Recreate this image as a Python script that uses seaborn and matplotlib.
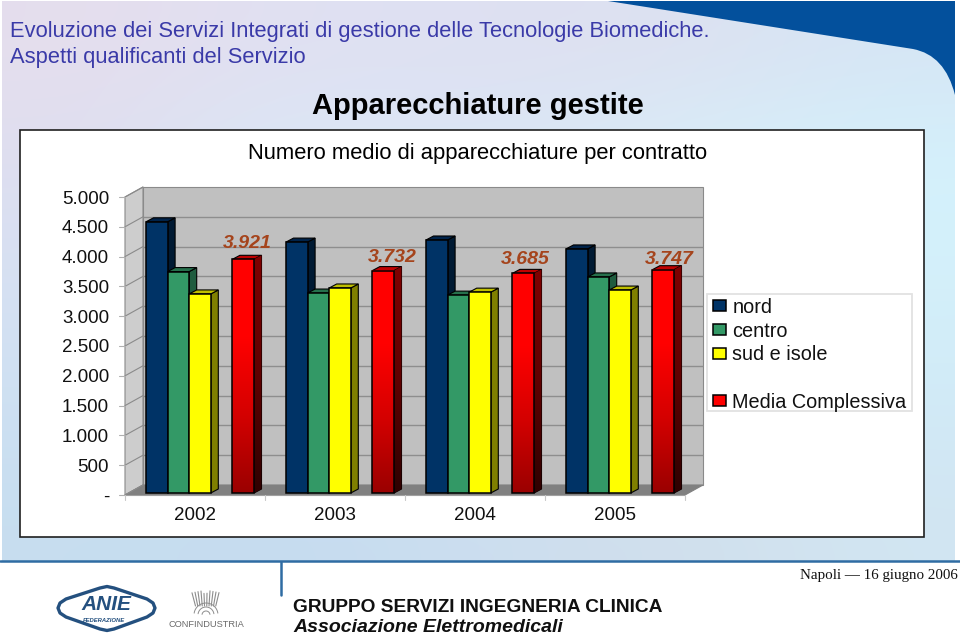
import matplotlib
matplotlib.use("Agg")
import matplotlib.pyplot as plt
from matplotlib.colors import LinearSegmentedColormap
from matplotlib.patches import Polygon, Rectangle, PathPatch
from matplotlib.path import Path
from matplotlib.transforms import Affine2D
import seaborn as sns
import pandas as pd
import numpy as np

# Chart data
anni = ["2002", "2003", "2004", "2005"]
nord = [4550, 4210, 4245, 4095]
centro = [3715, 3355, 3320, 3625]
sud_isole = [3340, 3440, 3370, 3405]
media = [3921, 3732, 3685, 3747]
media_labels = ["3.921", "3.732", "3.685", "3.747"]
y_ticks = [0, 500, 1000, 1500, 2000, 2500, 3000, 3500, 4000, 4500, 5000]
y_tick_labels = ["-", "500", "1.000", "1.500", "2.000", "2.500", "3.000", "3.500", "4.000", "4.500", "5.000"]
serie_nomi = ["nord", "centro", "sud e isole", " ", "Media Complessiva"]

# The empty series keeps the hole between the bars and in the legend
serie_valori = [nord, centro, sud_isole, [np.nan] * 4, media]
rows = []
for nome, valori in zip(serie_nomi, serie_valori):
    for anno, v in zip(anni, valori):
        rows.append({"anno": anno, "serie": nome, "valore": v})
df = pd.DataFrame(rows)

colori = {"nord": "#003366", "centro": "#339966", "sud e isole": "#ffff00", " ": "#ffffff", "Media Complessiva": "#ff0000"}
top_col = {"nord": "#00234a", "centro": "#26704c", "sud e isole": "#bfbf00", "Media Complessiva": "#c00000"}
side_col = {"nord": "#001a33", "centro": "#1f5c3f", "sud e isole": "#808000", "Media Complessiva": "#800000"}

W, H = 960, 636
sns.set_theme(style="white")
plt.rcParams["font.family"] = ["Liberation Sans", "DejaVu Sans"]
fig = plt.figure(figsize=(W / 100, H / 100), dpi=100, facecolor="white")

# Slide layer, in pixels
bg = fig.add_axes([0, 0, 1, 1], zorder=0)
bg.set_xlim(0, W)
bg.set_ylim(H, 0)
bg.axis("off")

sfondo = np.array([
    [[0.90, 0.87, 0.93], [0.88, 0.88, 0.95], [0.87, 0.88, 0.95], [0.87, 0.88, 0.94], [0.84, 0.90, 0.96]],
    [[0.87, 0.87, 0.94], [0.85, 0.92, 0.97], [0.86, 0.90, 0.96], [0.85, 0.94, 0.98], [0.83, 0.95, 0.99]],
    [[0.84, 0.88, 0.95], [0.84, 0.92, 0.97], [0.84, 0.93, 0.98], [0.83, 0.94, 0.98], [0.83, 0.94, 0.98]],
    [[0.81, 0.88, 0.95], [0.82, 0.90, 0.96], [0.83, 0.91, 0.97], [0.83, 0.93, 0.97], [0.82, 0.92, 0.97]],
    [[0.78, 0.87, 0.94], [0.77, 0.86, 0.94], [0.80, 0.87, 0.94], [0.82, 0.87, 0.92], [0.82, 0.90, 0.95]],
])
bg.imshow(sfondo, extent=[2, 955, 561, 1], aspect="auto", interpolation="bicubic", zorder=0)
bg.set_xlim(0, W)
bg.set_ylim(H, 0)

# Dark blue corner
verts = [(608, 1), (955, 1), (955, 95), (945, 55), (913, 49), (608, 1)]
codes = [Path.MOVETO, Path.LINETO, Path.LINETO, Path.CURVE3, Path.CURVE3, Path.CLOSEPOLY]
bg.add_patch(PathPatch(Path(verts, codes), fc="#03509c", ec="none", zorder=1))

bg.plot([0, 960], [561, 561], color="#2f6ca3", lw=1.8, zorder=1)
bg.plot([281, 281], [562, 595], color="#2f6ca3", lw=1.8, zorder=1)

bg.text(10, 32, "Evoluzione dei Servizi Integrati di gestione delle Tecnologie Biomediche.", color="#3a3aa8",
        fontsize=15.75, va="center")
bg.text(10, 58, "Aspetti qualificanti del Servizio", color="#3a3aa8", fontsize=15.75, va="center")
bg.text(478, 106, "Apparecchiature gestite", color="black", fontsize=21, weight="bold", ha="center", va="center")

# White chart box with walls of the 3D plot
bg.add_patch(Rectangle((20, 130), 904, 407, fc="white", ec="#202020", lw=1.2, zorder=2))
bg.text(478, 154, "Numero medio di apparecchiature per contratto", color="black", fontsize=15.8,
        ha="center", va="center", zorder=3)
bg.add_patch(Polygon([(143, 187), (703, 187), (703, 485), (143, 485)], fc="#c0c0c0", ec="#8a8a8a", lw=0.8, zorder=3))
bg.add_patch(Polygon([(125, 197), (143, 187), (143, 485), (125, 495)], fc="#cdcdcd", ec="#8a8a8a", lw=0.8, zorder=3))
bg.add_patch(Polygon([(125, 495), (143, 485), (703, 485), (685, 495)], fc="#808080", ec="#808080", lw=0.8, zorder=3))
for t in y_ticks:
    y_front = 495 - 298 * t / 5000
    bg.plot([125, 143], [y_front, y_front - 10], color="#8a8a8a", lw=0.8, zorder=4)
    bg.plot([119, 125], [y_front, y_front], color="#b0b0b0", lw=0.8, zorder=4)
bg.plot([125, 685], [495, 495], color="#a0a0a0", lw=0.8, zorder=4)
for x in [125, 265, 405, 545, 685]:
    bg.plot([x, x], [495, 500], color="#c8c8c8", lw=0.8, zorder=4)

# Legend frame is drawn apart, its padding is not the same on all sides
bg.add_patch(Rectangle((707, 294), 205, 117, fc="white", ec="#e2e2e2", lw=1.3, zorder=3))

# Chart: baseline of the bars at y=493, 5000 at y=195
ax = fig.add_axes([130 / W, (H - 493) / H, 560 / W, 298 / H], zorder=1)
ax.patch.set_alpha(0)
sns.barplot(data=df, x="anno", y="valore", hue="serie", hue_order=serie_nomi, palette=colori, width=108 / 140,
            gap=0, saturation=1, edgecolor="black", linewidth=1.1, ax=ax)
ax.set_xlim(-0.5, 3.5)
ax.set_ylim(0, 5000)
ax.set_xlabel("")
ax.set_ylabel("")
sns.despine(ax=ax, left=True, bottom=True)
ax.set_yticks(y_ticks)
ax.set_yticklabels(y_tick_labels, fontsize=13.5, color="#111111")
ax.tick_params(axis="y", length=0, pad=15)
ax.tick_params(axis="x", length=0, pad=10, labelsize=13.5, labelcolor="#111111")
shift_y = Affine2D().translate(0, -2)
for lab in ax.get_yticklabels():
    lab.set_transform(lab.get_transform() + shift_y)
shift_x = Affine2D().translate(-5, 0)
for lab in ax.get_xticklabels():
    lab.set_transform(lab.get_transform() + shift_x)

# Gridlines live on the back wall
back = ax.transData + Affine2D().translate(13, 8)
ax.hlines(y_ticks[1:-1], -0.5, 3.5, color="#8e8e8e", lw=1, transform=back, zorder=0.5, clip_on=False)

# Depth of each bar, in data units
dx = 7.5 / 140
dy = 4 * 5000 / 298
rosso_fronte = LinearSegmentedColormap.from_list("rf", ["#9a0000", "#d40000", "#ff0000", "#ff0000"])
rosso_lato = LinearSegmentedColormap.from_list("rl", ["#2e0000", "#600000", "#800000"])
grad = np.linspace(0, 1, 256).reshape(-1, 1)

z = 3.0
for container, nome in zip(ax.containers, serie_nomi):
    if nome == " ":
        continue
    for bar in container:
        x0, w, h = bar.get_x(), bar.get_width(), bar.get_height()
        x1 = x0 + w
        z += 0.01
        side = Polygon([(x1, 0), (x1 + dx, dy), (x1 + dx, h + dy), (x1, h)], fc=side_col[nome], ec="black", lw=0.8,
                       zorder=z, clip_on=False)
        top = Polygon([(x0, h), (x0 + dx, h + dy), (x1 + dx, h + dy), (x1, h)], fc=top_col[nome], ec="black", lw=0.8,
                      zorder=z, clip_on=False)
        ax.add_patch(side)
        ax.add_patch(top)
        bar.set_zorder(z + 0.004)
        bar.set_clip_on(False)
        if nome == "Media Complessiva":
            # Red bars fade to dark towards the floor
            im = ax.imshow(grad, extent=[x1, x1 + dx, 0, h + dy], origin="lower", aspect="auto", cmap=rosso_lato,
                           zorder=z + 0.001)
            im.set_clip_path(side)
            ax.imshow(grad, extent=[x0, x1, 0, h], origin="lower", aspect="auto", cmap=rosso_fronte, zorder=z + 0.002)
            bar.set_facecolor("none")

ax.set_xlim(-0.5, 3.5)
ax.set_ylim(0, 5000)

# Labels of the average above the red bars
label_dx = [4, 9, 2, 6]
label_dy = [16, 13, 14, 10]
for i, bar in enumerate(ax.containers[4]):
    ax.annotate(media_labels[i], (bar.get_x() + bar.get_width() / 2, bar.get_height()),
                xytext=(label_dx[i] * 0.72, label_dy[i] * 0.72), textcoords="offset points", ha="center", va="center",
                color="#a5441c", fontsize=14, weight="bold", style="italic", zorder=6, annotation_clip=False)

# Legend
handles, labels = ax.get_legend_handles_labels()
handles[3].set_visible(False)
leg = ax.legend(handles, labels, loc="upper left", bbox_to_anchor=(713 / W, 1 - 298 / H), bbox_transform=fig.transFigure,
                frameon=False, fontsize=14.3, handlelength=0.67, handleheight=0.48, handletextpad=0.3,
                labelspacing=0.235, borderpad=0, borderaxespad=0)
leg.set_zorder(5)
for txt in leg.get_texts():
    txt.set_color("#111111")

# Footer
bg.text(800, 575, "Napoli \u2014 16 giugno 2006", family="Liberation Serif", fontsize=10.8, color="#101010", va="center")
bg.text(293, 608, "GRUPPO SERVIZI INGEGNERIA CLINICA", fontsize=13.8, weight="bold", color="#101010", va="center")
bg.text(293, 628, "Associazione Elettromedicali", fontsize=14, style="italic", weight="bold", color="#101010",
        va="center")

# ANIE logo
bg.add_patch(Polygon([(58, 608), (60, 603), (66, 599), (100, 588), (107, 586.5), (114, 588), (147, 599), (153, 603),
                      (155, 608), (153, 613), (147, 617), (114, 629), (107, 630.5), (100, 629), (66, 617), (60, 613)],
                     fc="white", ec="#24507f", lw=2.4, joinstyle="round"))
bg.text(106, 605, "ANIE", fontsize=15, weight="bold", style="italic", color="#24507f", ha="center", va="center")
bg.text(104, 620, "FEDERAZIONE", fontsize=4.2, weight="bold", style="italic", color="#24507f", ha="center", va="center")

# Confindustria mark
for r in [4, 8, 12]:
    t = np.linspace(np.pi * 0.05, np.pi * 0.95, 30)
    bg.plot(206 + r * np.cos(t), 615 - r * np.sin(t), color="#8c8c8c", lw=0.7)
for x in range(192, 221, 3):
    top_y = 590 + abs(x - 206) * 0.2 + (3 if abs(x - 206) < 3 else 0)
    bg.plot([x, x + (206 - x) * 0.25], [top_y, 606], color="#8c8c8c", lw=0.8)
bg.text(206.5, 624.5, "CONFINDUSTRIA", fontsize=6.7, color="#6a6a6a", ha="center", va="center")

fig.savefig("out.png", dpi=100, facecolor="white")
